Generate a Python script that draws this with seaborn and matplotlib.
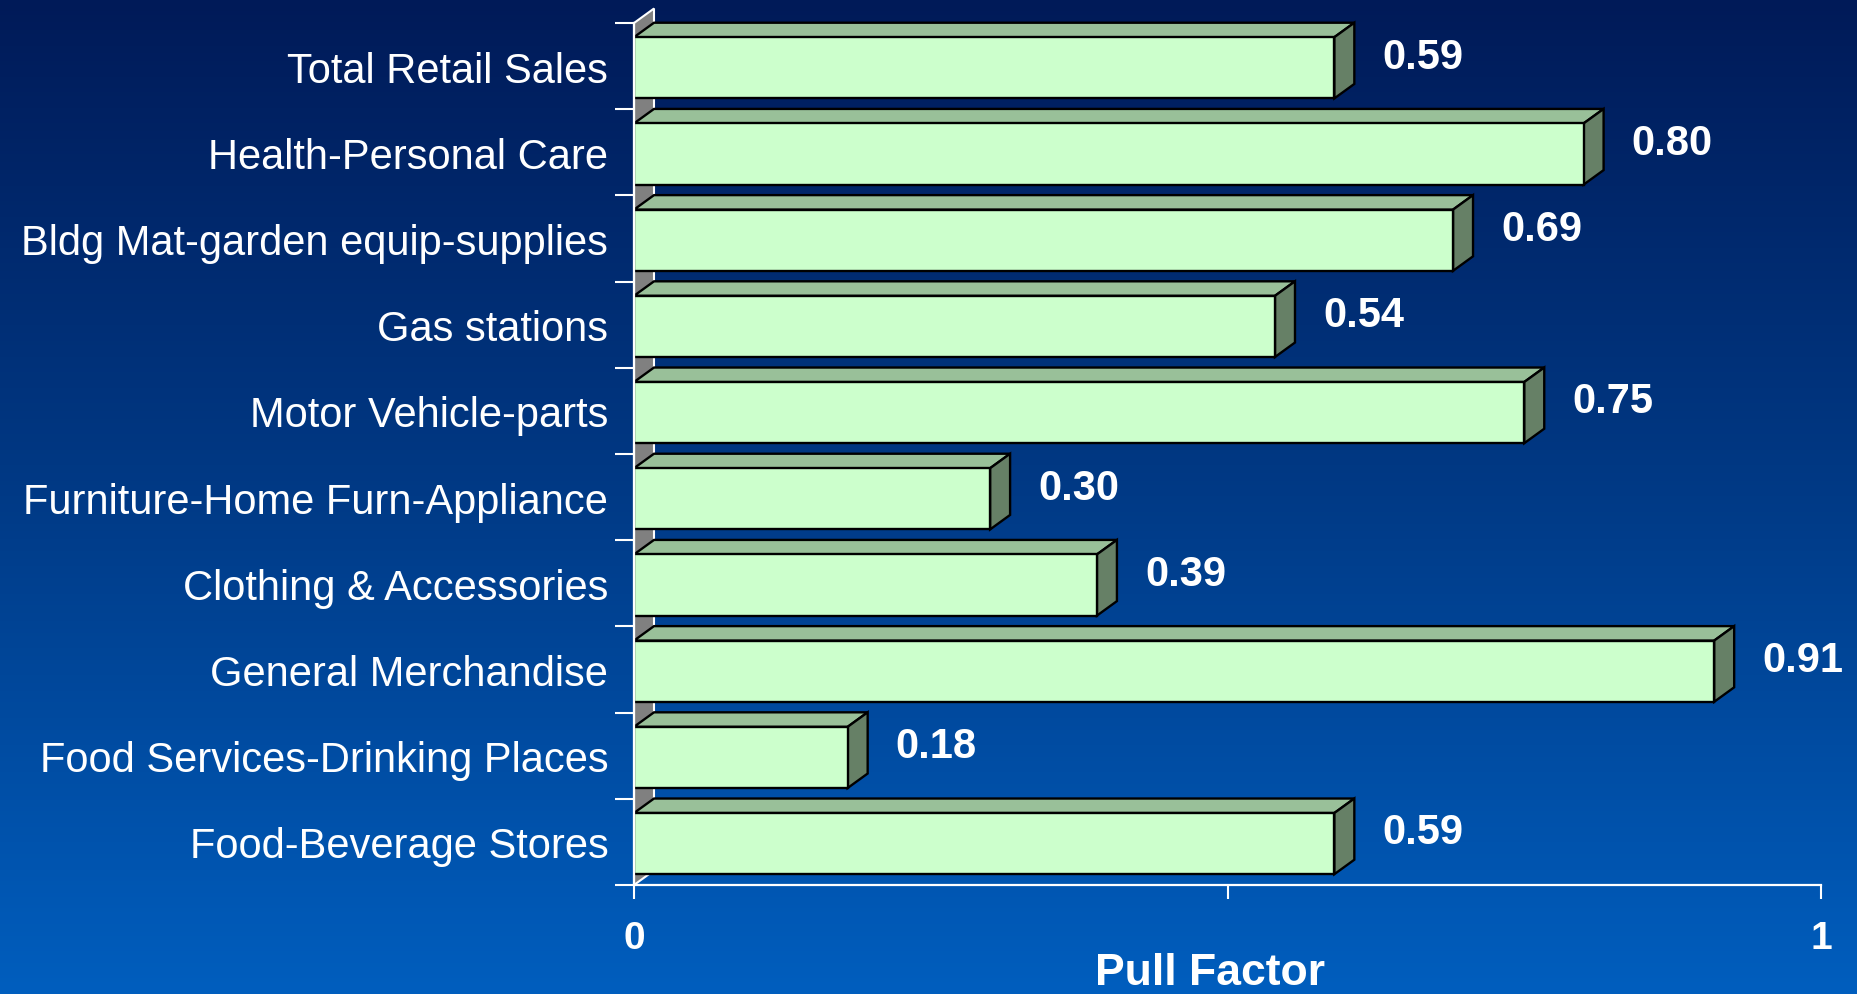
import numpy as np
import pandas as pd
import seaborn as sns
from matplotlib import pyplot as plt
from matplotlib.patches import Polygon
from matplotlib.colors import LinearSegmentedColormap

# data
categories = ["Total Retail Sales", "Health-Personal Care", "Bldg Mat-garden equip-supplies",
              "Gas stations", "Motor Vehicle-parts", "Furniture-Home Furn-Appliance",
              "Clothing & Accessories", "General Merchandise", "Food Services-Drinking Places",
              "Food-Beverage Stores"]
pull_factor = [0.59, 0.80, 0.69, 0.54, 0.75, 0.30, 0.39, 0.91, 0.18, 0.59]
x_ticks = [0, 0.5, 1]
x_tick_labels = ["0", "", "1"]

df = pd.DataFrame({"category": categories, "pull": pull_factor})

sns.set_theme(style="white")
plt.rcParams['font.family'] = ['Liberation Sans', 'DejaVu Sans']

W, H = 1857, 995
fig = plt.figure(figsize=(W / 100, H / 100), dpi=100)

# background gradient
bg = fig.add_axes([0, 0, 1, 1], zorder=-10)
grad = np.linspace(0, 1, 256).reshape(-1, 1)
cmap = LinearSegmentedColormap.from_list("bg", ["#001a58", "#003a86", "#005ebe"])
bg.imshow(grad, aspect="auto", cmap=cmap, extent=[0, 1, 0, 1], origin="upper")
bg.set_axis_off()

left, right = 634 / W, 1821 / W
bottom, top = 1 - 886 / H, 1 - 24 / H
ax = fig.add_axes([left, bottom, right - left, top - bottom])
ax.set_facecolor("none")

sns.barplot(data=df, x="pull", y="category", orient="h", color="#ccffcc", saturation=1,
            edgecolor="black", linewidth=1.7, width=0.71, ax=ax, zorder=2)

ax.set_xlim(0, 1)
ax.set_ylim(len(categories) - 0.5, -0.5)

# 3d depth offsets in data units
dx = 20 / 1187
dy = 14.5 / 86.2

# left wall
wall = Polygon([(0, len(categories) - 0.5), (dx, len(categories) - 0.5 - dy),
                (dx, -0.5 - dy), (0, -0.5)], closed=True, fc="#808080", ec="white",
               lw=1.5, clip_on=False, zorder=0.5)

bars = list(ax.patches)
ax.add_patch(wall)

for p in bars:
    p.set_y(p.get_y() + 0.02)  # front face sits slightly low in its slot
    x0, y0, w, h = p.get_x(), p.get_y(), p.get_width(), p.get_height()
    top_face = Polygon([(x0, y0), (x0 + dx, y0 - dy), (x0 + w + dx, y0 - dy), (x0 + w, y0)],
                       closed=True, fc="#99c099", ec="black", lw=1.7, clip_on=False, zorder=1.9)
    side_face = Polygon([(x0 + w, y0), (x0 + w + dx, y0 - dy), (x0 + w + dx, y0 + h - dy),
                         (x0 + w, y0 + h)], closed=True, fc="#668066", ec="black", lw=1.7,
                        clip_on=False, zorder=1.9)
    ax.add_patch(top_face)
    ax.add_patch(side_face)

# value labels
for i, v in enumerate(pull_factor):
    ax.text(v + 48 / 1187, i - 0.11, f"{v:.2f}", ha="left", va="center", color="white",
            fontsize=30, fontweight="bold", clip_on=False)

# axes styling
for s in ["top", "right"]:
    ax.spines[s].set_visible(False)
for s in ["left", "bottom"]:
    ax.spines[s].set_color("white")
    ax.spines[s].set_linewidth(1.6)
    ax.spines[s].set_zorder(3)

ax.set_yticks(np.arange(len(categories) + 1) - 0.5)
ax.set_yticklabels([])
ax.set_yticks(np.arange(len(categories)), minor=True)
ax.set_yticklabels(categories, minor=True, fontsize=30, color="white")
ax.tick_params(axis="y", which="major", length=13.7, width=1.5, color="white", direction="out", left=True)
ax.tick_params(axis="y", which="minor", length=0, pad=18.5)

ax.set_xticks(x_ticks)
ax.set_xticklabels(x_tick_labels, fontsize=28, fontweight="bold", color="white")
ax.tick_params(axis="x", length=10, width=1.5, color="white", direction="out", bottom=True, pad=15)

ax.set_xlabel("")
ax.set_ylabel("")

fig.text(1210 / W, 1 - 985 / H, "Pull Factor", ha="center", va="baseline", color="white",
         fontsize=32, fontweight="bold")

fig.savefig("out.png", dpi=100)
